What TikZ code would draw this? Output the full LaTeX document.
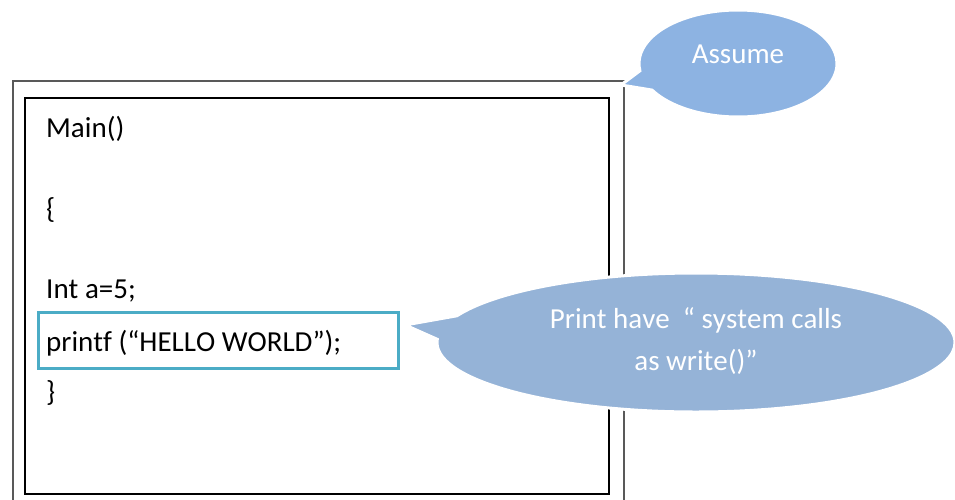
\documentclass[tikz,border=0pt]{standalone}
\usepackage{fontspec}
\setmainfont[Kerning=Off, Ligatures=NoCommon]{Carlito}
\usetikzlibrary{shapes.callouts}
\definecolor{framegray}{HTML}{595959}
\definecolor{hiliteteal}{HTML}{4BACC6}
\definecolor{bubbleA}{HTML}{8DB3E2}
\definecolor{bubbleB}{HTML}{95B3D7}
\tikzset{
  outerframe/.style={draw=framegray, line width=2.4pt},
  innerframe/.style={draw=black, line width=2pt},
  hilite/.style={draw=hiliteteal, line width=3pt},
  codeline/.style={anchor=base west, inner sep=0pt, font=\fontsize{29}{35}\selectfont},
  bubble/.style={ellipse callout, draw=white, line width=3pt, inner sep=0pt, outer sep=0pt},
  bubbletext/.style={text=white, inner sep=0pt, font=\fontsize{29}{35}\selectfont}
}
\begin{document}
\begin{tikzpicture}[x=1pt, y=-1pt]
  \useasboundingbox (0,0) rectangle (955,499);
  % program frame and code listing
  \draw[outerframe] (13,510) -- (13,81) -- (624,81) -- (624,510);
  \draw[innerframe] (25,98) rectangle (609,494);
  \node[codeline] (main)  at (46,137) {Main()};
  \node[codeline] (open)  at (46,218) {\{};
  \node[codeline] (decl)  at (46,298) {Int a=5;};
  \node[codeline] (print) at (46,351) {printf (“HELLO WORLD”);};
  \node[codeline] (close) at (46,401) {\}};
  \draw[hilite] (38,312) rectangle (398,368);
  \coordinate (printtip) at (405,325);
  \coordinate (frametip) at (621,85);
  % callouts
  \node[bubble, fill=bubbleA, minimum width=198pt, minimum height=107pt,
        callout pointer arc=22, callout absolute pointer={(frametip)}] (assume) at (738,63.5) {};
  \node[bubbletext] (assumetxt) at (738,54) {Assume};
  \node[bubble, fill=bubbleB, minimum width=518pt, minimum height=139pt,
        callout pointer arc=20, callout absolute pointer={(printtip)}] (syscall) at (696,342.5) {};
  \node[bubbletext, anchor=base] (sysline1) at (696,328) {Print have~~“ system calls};
  \node[bubbletext, anchor=base] (sysline2) at (696,370) {as write()”};
\end{tikzpicture}
\end{document}
